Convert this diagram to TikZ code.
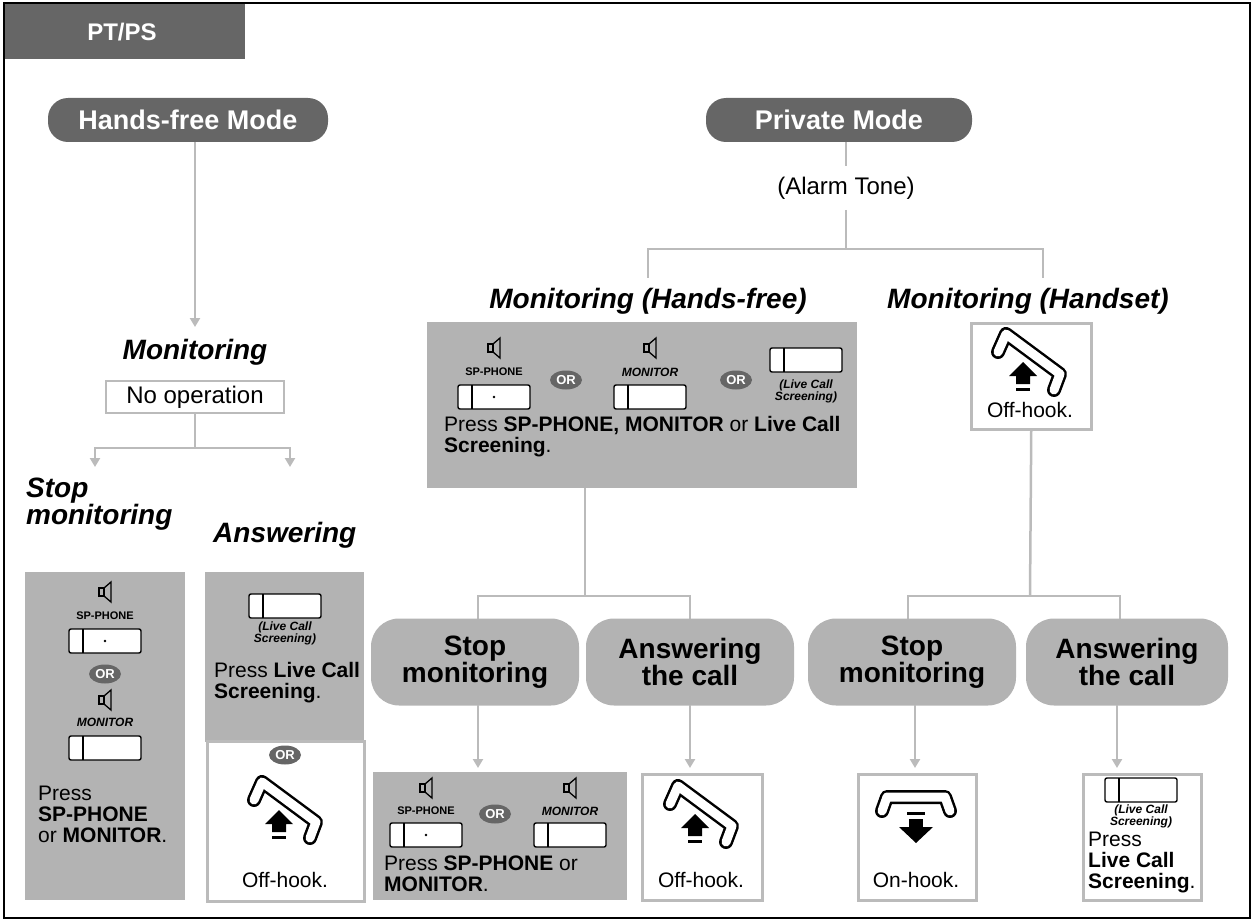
\documentclass[tikz,border=0pt]{standalone}
\usepackage{fontspec}
\setmainfont{Liberation Sans}
\usetikzlibrary{arrows.meta,shapes.geometric}
\definecolor{dg}{HTML}{666666}
\definecolor{lg}{HTML}{B3B3B3}
\definecolor{ln}{HTML}{BBBBBB}
\tikzset{
 conn/.style={draw=ln,line width=2.5pt},
 arr/.style={conn,-{Triangle[length=9pt,width=10pt,fill=ln]}},
 darkpill/.style={fill=dg,rounded corners=20pt,text=white,font=\bfseries\fontsize{27}{27}\selectfont,minimum height=44pt,inner sep=0pt},
 lightpill/.style={fill=lg,rounded corners=28pt,text=black,font=\bfseries\fontsize{28}{27}\selectfont,align=center,minimum height=87pt,minimum width=208pt,inner sep=0pt},
 head/.style={font=\bfseries\itshape\fontsize{28}{26}\selectfont,align=left,inner sep=0pt},
 txt/.style={font=\fontsize{21}{21}\selectfont,align=left,inner sep=0pt},
 small/.style={font=\bfseries\fontsize{11}{11}\selectfont,inner sep=0pt},
 smalli/.style={font=\bfseries\itshape\fontsize{12}{12}\selectfont,inner sep=0pt,align=center},
 orov/.style={fill=dg,text=white,ellipse,font=\bfseries\fontsize{13}{13}\selectfont,inner sep=0pt,minimum width=32pt,minimum height=19pt},
 wbox/.style={draw=ln,line width=2.5pt,fill=white},
 gbox/.style={fill=lg},
 pics/btn/.style={code={\draw[line width=1.4pt,fill=white,rounded corners=2pt] (-36,-12) rectangle (36,12); \draw[line width=1.4pt] (-22,-12)--(-22,12); #1}},
 pics/spk/.style={code={\draw[line width=1.3pt] (-6,-4) rectangle (-1,4); \draw[line width=1.3pt] (-1,-4)--(6,-10)--(6,10)--(-1,4);}},
 pics/offhook/.style={code={
   \draw[line width=14pt,line cap=round,line join=round] (-34,-8)--(-26,-26)--(28,14)--(22,30);
   \draw[white,line width=9pt,line cap=round,line join=round] (-34,-8)--(-26,-26)--(28,14)--(22,30);
   \fill (-9,2)--(5,16)--(-2,16)--(-2,24)--(-16,24)--(-16,16)--(-23,16)--cycle;
   \fill (-16,28) rectangle (-2,31);}},
 pics/onhook/.style={code={
   \draw[line width=14pt,line cap=round,line join=round] (-34,4)--(-29,-10)--(29,-10)--(34,4);
   \draw[white,line width=9pt,line cap=round,line join=round] (-34,4)--(-29,-10)--(29,-10)--(34,4);
   \fill (-9,5) rectangle (9,8);
   \fill (-7,12) rectangle (7,20); \fill (-17,20)--(17,20)--(0,36)--cycle;}},
}
\begin{document}
\begin{tikzpicture}[x=1pt,y=-1pt]
\useasboundingbox (0,0) rectangle (1254,923);
\draw[line width=2.5pt] (4,3) rectangle (1250,918);
\node[fill=dg,minimum width=240pt,minimum height=55pt,anchor=north west,inner sep=0pt] (tab) at (5,4) {};
\node[text=white,font=\bfseries\fontsize{24}{24}\selectfont] (tabt) at (122,32) {PT/PS};
% top pills
\node[darkpill,minimum width=280pt] (hf) at (188,120) {Hands-free Mode};
\node[darkpill,minimum width=266pt] (pm) at (839,120) {Private Mode};
% left branch
\node[head] (mon) at (195,352) {Monitoring};
\node[wbox,font=\fontsize{24}{24}\selectfont,minimum width=178pt,minimum height=32pt,inner sep=0pt] (noop) at (195,397) {No operation};
\coordinate (hfb) at (195,142);
\draw[arr] (hfb) -- (195,327);
\coordinate (lj) at (195,448);
\draw[conn] (noop.south) -- (lj);
\draw[conn] (95,448) -- (290,448);
\draw[arr] (95,447) -- (95,467);
\draw[arr] (290,447) -- (290,467);
\node[head,anchor=north west,font=\bfseries\itshape\fontsize{28}{22}\selectfont] (stopL) at (26,478) {Stop\\monitoring};
\node[head,anchor=west] (ansL) at (213,535) {Answering};
% left gray box
\node[gbox,minimum width=160pt,minimum height=328pt,anchor=north west,inner sep=0pt] (lbox) at (25,572) {};
\pic at (105,592) {spk};
\node[small] (spl) at (105,616) {SP-PHONE};
\pic at (105,641) {btn={\fill (0,0) circle (1.4pt);}};
\node[orov] (orl) at (105,674) {OR};
\pic at (105,700) {spk};
\node[smalli] (monl) at (105,722) {MONITOR};
\pic at (105,748) {btn={}};
\node[txt,anchor=north west] (lpress) at (38,786) {Press\\\textbf{SP-PHONE}\\or \textbf{MONITOR}.};
% answering boxes
\node[gbox,minimum width=159pt,minimum height=170pt,anchor=north west,inner sep=0pt] (abox) at (205,572) {};
\node[wbox,minimum width=157pt,minimum height=160pt,anchor=north west,inner sep=0pt] (abox2) at (206,740) {};
\pic at (285,606) {btn={}};
\node[smalli] (lcs1) at (285,633) {(Live Call\\ Screening)};
\node[txt,anchor=north west] (ap) at (214,662) {Press \textbf{Live Call}\\\textbf{Screening}.};
\node[orov] (or2) at (285,755) {OR};
\pic at (288,808) {offhook};
\node[txt] (oh1) at (285,880) {Off-hook.};
% right branch
\coordinate (pmb) at (846,142);
\node[font=\fontsize{24}{24}\selectfont] (alarm) at (846,188) {(Alarm Tone)};
\draw[conn] (pmb) -- (846,166);
\draw[conn] (846,210) -- (846,249);
\draw[conn] (648,249) -- (1043,249);
\draw[conn] (648,248) -- (648,278);
\draw[conn] (1043,248) -- (1043,278);
\node[head] (mhf) at (648,301) {Monitoring (Hands-free)};
\node[head] (mhs) at (1028,301) {Monitoring (Handset)};
% hands-free gray box
\node[gbox,minimum width=430pt,minimum height=166pt,anchor=north west,inner sep=0pt] (hbox) at (427,322) {};
\pic at (494,348) {spk};
\node[small] (sp2) at (494,372) {SP-PHONE};
\pic at (494,397) {btn={\fill (0,0) circle (1.4pt);}};
\node[orov] (or3) at (566,380) {OR};
\pic at (650,348) {spk};
\node[smalli] (mo2) at (650,372) {MONITOR};
\pic at (650,397) {btn={}};
\node[orov] (or4) at (736,380) {OR};
\pic at (806,360) {btn={}};
\node[smalli] (lcs2) at (806,391) {(Live Call\\ Screening)};
\node[txt,anchor=north west] (hp) at (444,416) {Press \textbf{SP-PHONE, MONITOR} or \textbf{Live Call}\\\textbf{Screening}.};
% handset box
\node[wbox,minimum width=120pt,minimum height=106pt,anchor=north west,inner sep=0pt] (sbox) at (970,322) {};
\pic at (1032,360) {offhook};
\node[txt] (oh2) at (1030,410) {Off-hook.};
% connectors down
\draw[conn] (585,488) -- (585,596);
\draw[conn] (478,596) -- (690,596);
\draw[conn] (478,595) -- (478,620);
\draw[conn] (690,595) -- (690,620);
\draw[conn] (sbox.south) -- (1030,596);
\draw[conn] (908,596) -- (1120,596);
\draw[conn] (908,595) -- (908,620);
\draw[conn] (1120,595) -- (1120,620);
\node[lightpill] (s1) at (475,662) {Stop\\monitoring};
\node[lightpill] (a1) at (690,662) {Answering\\the call};
\node[lightpill] (s2) at (912,662) {Stop\\monitoring};
\node[lightpill,minimum width=202pt] (a2) at (1127,662) {Answering\\the call};
\draw[arr] (478,705) -- (478,768);
\draw[arr] (690,705) -- (690,768);
\draw[arr] (915,705) -- (915,768);
\draw[arr] (1117,705) -- (1117,768);
% bottom boxes
\node[gbox,minimum width=254pt,minimum height=128pt,anchor=north west,inner sep=0pt] (b1) at (373,772) {};
\pic at (426,788) {spk};
\node[small] (sp3) at (426,811) {SP-PHONE};
\pic at (426,835) {btn={\fill (0,0) circle (1.4pt);}};
\node[orov] (or5) at (495,814) {OR};
\pic at (570,788) {spk};
\node[smalli] (mo3) at (570,811) {MONITOR};
\pic at (570,835) {btn={}};
\node[txt,anchor=north west] (bp) at (384,856) {Press \textbf{SP-PHONE} or\\\textbf{MONITOR}.};
\node[wbox,minimum width=120pt,minimum height=126pt,anchor=north west,inner sep=0pt] (b2) at (641,773) {};
\pic at (704,812) {offhook};
\node[txt] (oh3) at (701,880) {Off-hook.};
\node[wbox,minimum width=118pt,minimum height=126pt,anchor=north west,inner sep=0pt] (b3) at (857,773) {};
\pic at (916,807) {onhook};
\node[txt] (on) at (916,880) {On-hook.};
\node[wbox,minimum width=118pt,minimum height=126pt,anchor=north west,inner sep=0pt] (b4) at (1082,773) {};
\pic at (1141,790) {btn={}};
\node[smalli] (lcs3) at (1141,816) {(Live Call\\ Screening)};
\node[txt,anchor=north west] (lp) at (1088,832) {Press\\\textbf{Live Call}\\\textbf{Screening}.};
\end{tikzpicture}
\end{document}
